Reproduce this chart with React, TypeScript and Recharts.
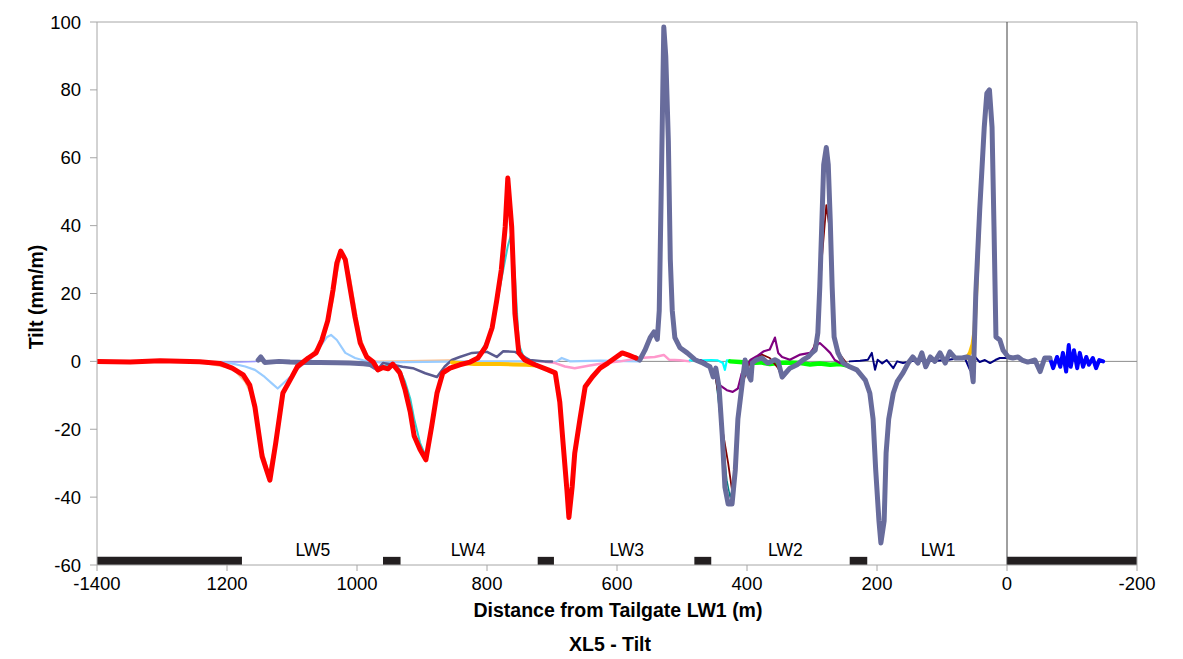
import React from "react";
import {
  LineChart,
  Line,
  XAxis,
  YAxis,
  ReferenceLine,
  ReferenceArea,
  ReferenceDot,
} from "recharts";

type Pt = [number, number | null];

// x = distance from tailgate LW1 (m), y = tilt (mm/m)
const RED: Pt[] = [
  [1400, 0], [1349, -0.2], [1303, 0.2], [1242, -0.1], [1211, -0.6], [1192, -2], [1175, -4],
  [1165, -7], [1157, -13.5], [1146, -28], [1134, -35], [1125, -24], [1114, -9.3], [1100, -4.5],
  [1092, -1.6], [1075, 1], [1063, 2.5], [1054, 6.3], [1045, 12], [1037, 21], [1031, 29],
  [1025, 32.5], [1018, 30], [1011, 22], [1003, 13], [995, 5.4], [985, 1.3], [975, -0.2],
  [968, -2.5], [960, -1.8], [952, -2.2], [945, -0.8], [934, -3.4], [926, -8.4], [918, -15],
  [912, -22], [903, -26], [894, -29], [885, -19], [877, -9.4], [868, -3.4], [857, -2],
  [842, -1], [826, -0.2], [814, 1], [802, 4.3], [792, 10], [785, 18], [778, 27], [772, 39.6],
  [768, 54], [762, 39.6], [757, 14], [751, 2.5], [742, 0.4], [726, -1], [706, -2.5],
  [695, -3.4], [688, -12], [683, -24], [677, -38], [674, -46], [669, -37], [665, -27],
  [657, -17], [649, -7.5], [638, -4.6], [626, -2], [614, -0.5], [601, 1.3], [592, 2.5],
  [583, 1.9], [571, 1],
];

const GRAY: Pt[] = [
  [1152, 0.4], [1148, 1.3], [1142, -0.3], [1120, 0], [1103, -0.2], [1080, -0.3], [1057, -0.3],
  [1030, -0.4], [1011, -0.5], [990, -0.7], [980, -0.9], [972, -1.8], [968, -2.3],
  [700, null],
  [571, 1], [565, 0.4], [557, 3.3], [549, 7], [543, 8.7], [538, 6.5], [535, 15], [532, 50],
  [528, 98.5], [525, 90], [521, 65], [518, 30], [515, 15], [511, 7], [503, 4], [492, 2.5],
  [480, 0.5], [468, -0.5], [457, -1.6], [452, -4.6], [448, -2], [443, -7.5], [438, -22],
  [434, -37], [429, -42], [423, -42], [418, -32], [414, -17], [408, -7.5], [403, 0.4],
  [398, -4], [394, -5.5], [392, -0.5], [386, 0.4], [377, 1], [368, -0.5], [357, 0.5],
  [352, 0], [346, -4.6], [334, -2], [323, -1], [314, 0.4], [306, 1.3], [300, 2.5],
  [295, 3.3], [291, 8.4], [288, 22], [285, 40], [282, 58], [278, 63], [275, 58], [272, 42],
  [269, 22], [266, 7.2], [260, 2.5], [252, -0.5], [242, -1.6], [231, -2.5], [218, -5.5],
  [211, -9.4], [206, -17], [202, -32], [197, -47], [194, -53.5], [189, -47], [186, -27],
  [182, -17], [175, -9.4], [169, -6], [160, -3.4], [152, -0.5], [145, 1.3], [137, -0.5],
  [131, 2.5], [125, -1.6], [118, 1.3], [111, 0], [103, 2.5], [95, -0.5], [88, 2.8], [80, 1],
  [69, 1], [62, 1.3], [57, 1], [52, -6], [48, 20], [42, 44.6], [35, 69], [31, 79], [27, 80],
  [23, 69], [20, 39.6], [17, 7.2], [11, 6.3], [6, 3.3], [-2, 1.3], [-9, 1], [-17, 1.3],
  [-23, 0.4], [-32, -0.2], [-43, 0.4], [-51, -3], [-58, 1], [-66, 1],
];

const SLATE: Pt[] = [
  [968, -2.3], [960, -0.5], [945, -1], [930, -1.6], [914, -2], [895, -3.5], [877, -4.6],
  [865, -1.5], [854, 0.4], [842, 1.3], [823, 2.5], [800, 2.8], [785, 1.3], [775, 3],
  [757, 2.8], [742, 1.3], [734, 0.4], [711, 0], [700, 0],
];

const BLUE: Pt[] = [
  [-66, 1], [-71, -2], [-77, 1.3], [-82, -1.6], [-86, 2.5], [-91, -3], [-95, 4.8], [-98, -1.6],
  [-103, 3.3], [-108, -2], [-112, 2.5], [-117, -1.6], [-122, 1.3], [-126, -1], [-132, 1],
  [-137, -2], [-142, 0.4], [-148, 0],
];

const NAVY: Pt[] = [
  [242, 0], [226, 0.2], [214, 0.5], [208, 2.5], [203, -2.5], [199, 0.5], [192, -0.6],
  [185, 0.4], [175, -2], [169, 0], [160, -0.5], [149, 0], [134, 0.3], [110, 0.2], [90, 0.5],
  [72, 1], [65, 1], [57, -2.5], [49, 1.3], [42, -0.2], [34, 0.4], [26, -0.5], [18, 0.4],
  [11, 1], [0, 1],
];

const GREEN: Pt[] = [
  [426, 0], [411, -0.2], [395, -0.5], [380, -0.3], [365, -0.8], [349, -0.4], [334, -0.3],
  [318, -0.5], [303, -0.9], [288, -0.6], [272, -1], [257, -0.8], [245, -1.2],
];

const PURPLE: Pt[] = [
  [472, 0.4], [465, -0.2], [457, -1.6], [449, -4.6], [442, -7], [431, -8.5], [422, -9],
  [414, -8], [408, -3.5], [395, 0.4], [385, 1.5], [374, 3], [365, 3.5], [357, 7], [352, 2.5],
  [346, 1.3], [334, 0.5], [318, 2], [303, 2.5], [295, 4.5], [288, 5.4], [280, 4], [272, 2.5],
  [265, 0.4], [257, -0.5],
];

const DARKRED: Pt[] = [
  [472, 0], [457, -1.5], [449, -4], [442, -12], [437, -21], [429, -30], [423, -38], [418, -30],
  [414, -17], [408, -7], [395, 0], [385, 1], [377, 2], [365, 1], [352, -2], [346, -5],
  [334, -2.5], [318, 0], [300, 2.5], [291, 8], [285, 30], [278, 46], [272, 38], [266, 7],
  [257, 2], [245, -1],
];

const TEAL: Pt[] = [
  [449, -3], [438, -22], [431, -35], [426, -40], [420, -36], [414, -17],
];

const TURQUOISE: Pt[] = [
  [960, -1.5], [945, -0.8], [934, -2.5], [926, -6], [918, -11], [912, -17], [903, -24],
  [894, -28], [885, -20], [877, -9], [868, -3.4], [842, -1], [814, 1], [792, 9], [778, 24],
  [768, 34], [762, 38], [757, 25], [751, 5], [742, 0.4], [726, -1],
];

const CYAN: Pt[] = [
  [488, 0.3], [470, 0.3], [455, 0.4], [445, 0.3], [437, -0.5], [434, -2.5], [431, 0.3],
  [426, 0.2],
];

const LIGHTBLUE: Pt[] = [
  [1242, 0], [1195, -0.5], [1172, -1.5], [1157, -2.5], [1142, -4.6], [1131, -6.5],
  [1122, -8], [1103, -4.6], [1088, -1.6], [1072, 0.5], [1057, 4.3], [1046, 7.2], [1040, 7.8],
  [1031, 6.3], [1018, 2.5], [1003, 1], [988, 0.2], [965, -0.3], [826, 0], [718, 0],
  [695, -0.3], [685, 1], [672, 0], [626, 0.2], [565, 0],
];

const PINK: Pt[] = [
  [718, 0], [695, -0.5], [680, -1.5], [665, -2], [642, -1.2], [618, -0.5], [595, 0],
  [565, 1], [542, 1.3], [528, 1.9], [520, 0.5], [503, 0.3], [488, 0],
];

const GOLD: Pt[] = [
  [854, -0.3], [840, -0.5], [820, -0.8], [800, -0.8], [780, -0.8], [760, -0.9], [740, -1],
  [723, -1.2],
  [300, null],
  [62, 1], [57, 2.5], [53, 5], [50, 9], [47, 22], [43, 40],
];

const PEACH: Pt[] = [
  [1242, -0.2], [1192, -2], [1172, -6], [1157, -12], [1146, -26], [1136, -33], [1128, -26],
  [1114, -10], [1100, -4], [1075, 1], [1054, 5.5], [1037, 18], [1031, 26], [1025, 31],
  [1018, 30], [1011, 25], [1003, 16], [995, 7], [985, 2], [975, 0], [960, 0], [900, 0.2],
  [860, 0.3], [850, 0.3],
];

const LAVENDER: Pt[] = [
  [1242, -0.1], [1211, -0.2], [1180, -0.2], [1152, 0],
];

// pillars drawn along the bottom of the plot
const PILLARS: [number, number][] = [
  [1400, 1177], [960, 933], [722, 697], [481, 455], [242, 215], [0, -200],
];

const PANELS = ["LW5", "LW4", "LW3", "LW2", "LW1"];
const PANEL_X = [1068, 829, 585, 341, 106];

const X_TICKS = [1400, 1200, 1000, 800, 600, 400, 200, 0, -200];
const X_TICK_LABELS = ["-1400", "1200", "1000", "800", "600", "400", "200", "0", "-200"];
const Y_TICKS = [-60, -40, -20, 0, 20, 40, 60, 80, 100];

const toPts = (arr: Pt[]) => arr.map(([x, y]) => ({ x, y }));

const FONT = "'Liberation Sans', Arial, Helvetica, sans-serif";

const SERIES: { data: Pt[]; color: string; width: number }[] = [
  { data: LAVENDER, color: "#9999ff", width: 1.5 },
  { data: PEACH, color: "#fac090", width: 2 },
  { data: LIGHTBLUE, color: "#99ccff", width: 2.2 },
  { data: PINK, color: "#ff99cc", width: 2.5 },
  { data: CYAN, color: "#00ffff", width: 2.2 },
  { data: TURQUOISE, color: "#33cccc", width: 2 },
  { data: TEAL, color: "#008080", width: 1.5 },
  { data: SLATE, color: "#5b5b8f", width: 2.5 },
  { data: GOLD, color: "#ffc000", width: 4 },
  { data: GREEN, color: "#00ff00", width: 4.5 },
  { data: DARKRED, color: "#800000", width: 1.8 },
  { data: PURPLE, color: "#800080", width: 2.2 },
  { data: NAVY, color: "#000080", width: 2 },
  { data: BLUE, color: "#0000ff", width: 4 },
  { data: GRAY, color: "#686c9c", width: 5 },
  { data: RED, color: "#ff0000", width: 5 },
];

export default function App() {
  return (
    <div style={{ position: "absolute", left: 0, top: 0, width: 1183, height: 659, background: "#fff", fontFamily: FONT }}>
      <LineChart width={1183} height={659} margin={{ top: 22, right: 46, bottom: 64, left: 0 }}>
        <XAxis
          type="number"
          dataKey="x"
          domain={[-200, 1400]}
          reversed
          ticks={X_TICKS}
          tickFormatter={(v: number) => X_TICK_LABELS[X_TICKS.indexOf(v)] ?? String(v)}
          height={30}
          tickSize={6}
          tickMargin={6}
          stroke="#a6a6a6"
          tick={{ fill: "#000", fontSize: 18.5, fontFamily: FONT }}
          allowDataOverflow
        />
        <YAxis
          type="number"
          domain={[-60, 100]}
          ticks={Y_TICKS}
          width={97}
          tickSize={7}
          tickMargin={9}
          stroke="#a6a6a6"
          tick={{ fill: "#000", fontSize: 18.5, fontFamily: FONT }}
          allowDataOverflow
        />
        <ReferenceLine y={100} stroke="#a6a6a6" />
        <ReferenceLine x={-200} stroke="#a6a6a6" />
        <ReferenceLine y={0} stroke="#8c8c8c" />
        <ReferenceLine x={0} stroke="#404040" />
        {PILLARS.map(([a, b], i) => (
          <ReferenceArea key={i} x1={a} x2={b} y1={-60} y2={-57.6} fill="#231f20" fillOpacity={1} stroke="none" ifOverflow="visible" />
        ))}
        {PANELS.map((name, i) => (
          <ReferenceDot
            key={name}
            x={PANEL_X[i]}
            y={-55.6}
            r={0.01}
            fill="none"
            stroke="none"
            label={{ value: name, position: "center", fill: "#000", fontSize: 17.5, fontFamily: FONT }}
          />
        ))}
        {SERIES.map((s, i) => (
          <Line
            key={i}
            data={toPts(s.data)}
            dataKey="y"
            type="linear"
            stroke={s.color}
            strokeWidth={s.width}
            strokeLinejoin="round"
            strokeLinecap="round"
            dot={false}
            activeDot={false}
            connectNulls={false}
            isAnimationActive={false}
          />
        ))}
      </LineChart>
      <div
        style={{
          position: "absolute",
          left: 37,
          top: 297,
          transform: "translate(-50%, -50%) rotate(-90deg)",
          fontWeight: "bold",
          fontSize: 19.5,
          whiteSpace: "nowrap",
          lineHeight: 1,
        }}
      >
        Tilt (mm/m)
      </div>
      <div style={{ position: "absolute", left: 0, width: 1236, top: 601, textAlign: "center", fontWeight: "bold", fontSize: 19.5, lineHeight: 1 }}>
        Distance from Tailgate LW1 (m)
      </div>
      <div style={{ position: "absolute", left: 0, width: 1220, top: 635, textAlign: "center", fontWeight: "bold", fontSize: 19.5, lineHeight: 1 }}>
        XL5 - Tilt
      </div>
    </div>
  );
}
